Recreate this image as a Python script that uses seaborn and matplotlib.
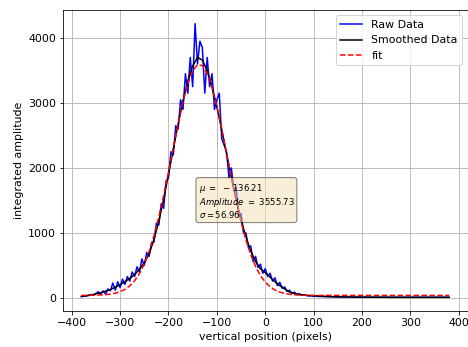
"""
Gaussian fit of an integrated vertical profile: raw, smoothed and fitted curves.
"""

import matplotlib
matplotlib.use('Agg')
import matplotlib.pyplot as plt
import seaborn as sns
import numpy as np
import pandas as pd

RAW_COLOR = 'blue'
SMOOTH_COLOR = 'black'
FIT_COLOR = 'red'

# raw profile, sampled every 5 px from -380 to 380
raw_x = np.arange(-380, 381, 5)
raw_y = [
    20, 28, 30, 38, 52, 45, 70, 95, 60, 110,
    60, 140, 110, 230, 120, 250, 160, 290, 210, 330,
    260, 400, 330, 480, 400, 600, 500, 700, 640, 850,
    860, 1150, 1120, 1450, 1380, 1800, 1850, 2250, 2200, 2650,
    2600, 3050, 2900, 3450, 3150, 3700, 3250, 4220, 3600, 3950,
    3850, 3150, 3700, 3250, 3450, 2900, 3050, 3150, 2450, 2350,
    2250, 1850, 2000, 1650, 1700, 1250, 1300, 1000, 1000, 780,
    800, 560, 640, 470, 520, 380, 450, 330, 380, 260,
    310, 190, 240, 150, 170, 100, 120, 70, 90, 55,
    65, 45, 50, 38, 30, 34, 25, 28, 22, 24,
    20, 22, 18, 21, 17, 19, 16, 18, 15, 17,
    14, 16, 13, 15, 13, 14, 12, 14, 12, 13,
    11, 13, 12, 11, 13, 10, 12, 11, 10, 12,
    11, 10, 12, 10, 11, 10, 12, 10, 11, 10,
    11, 10, 12, 10, 11, 10, 11, 10, 12, 10,
    11, 10, 11,
]

# smoothed profile and gaussian fit, every 10 px
curve_x = np.arange(-380, 381, 10)
smooth_y = [
    25, 35, 48, 62, 80, 105, 130, 165, 205, 250,
    300, 360, 440, 540, 680, 900, 1180, 1520, 1900, 2290,
    2680, 3030, 3340, 3570, 3700, 3660, 3500, 3250, 2940, 2590,
    2220, 1860, 1510, 1200, 940, 720, 560, 450, 390, 320,
    250, 190, 140, 92, 68, 54, 45, 39, 34, 30,
    26, 23, 20, 18, 16, 15, 14, 13, 12, 11,
    11, 11, 11, 11, 10, 10, 10, 10, 10, 10,
    10, 10, 10, 10, 10, 10, 10,
]
fit_y = [
    40, 41, 42, 43, 46, 51, 60, 74, 97, 133,
    187, 265, 375, 523, 716, 957, 1245, 1576, 1939, 2316,
    2686, 3022, 3299, 3493, 3588, 3575, 3455, 3238, 2945, 2599,
    2225, 1850, 1493, 1171, 894, 665, 484, 345, 244, 172,
    123, 90, 70, 57, 49, 45, 43, 41, 41, 40,
    40, 40, 40, 40, 40, 40, 40, 40, 40, 40,
    40, 40, 40, 40, 40, 40, 40, 40, 40, 40,
    40, 40, 40, 40, 40, 40, 40,
]

fit_params = {'mu': -136.21, 'amplitude': 3555.73, 'sigma': 56.96}

raw_df = pd.DataFrame({'x': raw_x, 'y': raw_y})
curve_df = pd.DataFrame({'x': curve_x, 'smooth': smooth_y, 'fit': fit_y})

plt.rcParams['font.size'] = 11

fig = plt.figure(figsize=(6.5, 4.82), dpi=72)
ax = fig.add_axes([0.1346, 0.1037, 0.8644, 0.8675])

sns.lineplot(data=raw_df, x='x', y='y', color=RAW_COLOR, lw=1.5,
             label='Raw Data', sort=False, errorbar=None, ax=ax)
sns.lineplot(data=curve_df, x='x', y='smooth', color=SMOOTH_COLOR, lw=1.5,
             label='Smoothed Data', sort=False, errorbar=None, ax=ax)
sns.lineplot(data=curve_df, x='x', y='fit', color=FIT_COLOR, lw=1.5, linestyle='--',
             label='fit', sort=False, errorbar=None, ax=ax)

ax.grid(True)
ax.set_xlabel('vertical position (pixels)')
ax.set_ylabel('integrated amplitude')
ax.legend(loc='upper right')

label = '\n'.join([
    r'$\mu\ =\ -\,%.2f$' % abs(fit_params['mu']),
    r'$Amplitude\ =\ %.2f$' % fit_params['amplitude'],
    r'$\sigma=%.2f$' % fit_params['sigma'],
])
ax.text(0.335, 0.428, label, transform=ax.transAxes, fontsize=8.5,
        verticalalignment='top', linespacing=1.05,
        bbox=dict(boxstyle='round', facecolor='wheat', alpha=0.5))

fig.savefig('out.png', dpi=72)
plt.close(fig)
